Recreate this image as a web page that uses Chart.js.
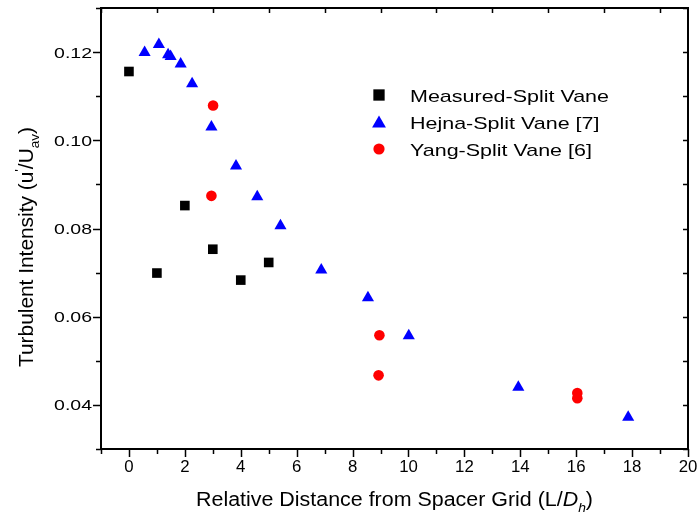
<!DOCTYPE html>
<html>
<head>
<meta charset="utf-8">
<script src="https://cdn.jsdelivr.net/npm/chart.js@4.4.1/dist/chart.umd.min.js"></script>
<style>
  html, body { margin: 0; padding: 0; background: #fff; }
  #wrap { width: 699px; height: 524px; }
</style>
</head>
<body>
<div id="wrap"><canvas id="turbChart" width="699" height="524"></canvas></div>
<script>
// values
const measuredX = [0, 1, 2, 3, 4, 5];
const measuredY = [0.1156, 0.0699, 0.0852, 0.0753, 0.0683, 0.0723];

const hejnaX = [0.56, 1.07, 1.40, 1.49, 1.85, 2.26, 2.95, 3.83, 4.59, 5.42, 6.88, 8.55, 10.01, 13.93, 17.86];
const hejnaY = [0.1199, 0.1217, 0.1194, 0.1190, 0.1173, 0.1128, 0.1030, 0.0942, 0.0872, 0.0806, 0.0706, 0.0643, 0.0557, 0.0440, 0.0372];

const yangX = [3.01, 2.95, 8.96, 8.93, 16.04, 16.04];
const yangY = [0.1079, 0.0874, 0.0558, 0.0467, 0.0427, 0.0415];

const seriesNames = ['Measured-Split Vane', 'Hejna-Split Vane [7]', 'Yang-Split Vane [6]'];

const xTicks = [0, 2, 4, 6, 8, 10, 12, 14, 16, 18, 20];
const yTicks = [0.04, 0.06, 0.08, 0.10, 0.12];

// rich-text titles (s: sup / sub, i: italic)
const xTitle = [
    { t: 'Relative Distance from Spacer Grid (L/' },
    { t: 'D', i: true },
    { t: 'h', i: true, s: 'sub' },
    { t: ')' }
];
const yTitle = [
    { t: 'Turbulent Intensity (u' },
    { t: "'", s: 'sup' },
    { t: '/U' },
    { t: 'av', s: 'sub' },
    { t: ')' }
];

const FONT = '"Liberation Sans", Arial, sans-serif';

function toPoints(xs, ys) {
    return xs.map((x, i) => ({ x: x, y: ys[i] }));
}

function partFont(p, size) {
    const sz = p.s ? size * 0.65 : size;
    return (p.i ? 'italic ' : '') + sz + 'px ' + FONT;
}

function richWidth(ctx, parts, size) {
    let w = 0;
    parts.forEach(p => { ctx.font = partFont(p, size); w += ctx.measureText(p.t).width; });
    return w;
}

function drawRich(ctx, parts, size) {
    let cx = 0;
    parts.forEach(p => {
        ctx.font = partFont(p, size);
        let dy = 0;
        if (p.s === 'sup') dy = -0.45 * size;
        if (p.s === 'sub') dy = 0.3 * size;
        ctx.fillText(p.t, cx, dy);
        cx += ctx.measureText(p.t).width;
    });
}

// text stretched horizontally so that it fills a given width, like the source picture
function stretchText(ctx, str, x, y, size, sx, align) {
    ctx.save();
    ctx.font = size + 'px ' + FONT;
    const w = ctx.measureText(str).width * sx;
    let left = x;
    if (align === 'center') left = x - w / 2;
    if (align === 'right') left = x - w;
    ctx.translate(left, y);
    ctx.scale(sx, 1);
    ctx.textAlign = 'left';
    ctx.fillText(str, 0, 0);
    ctx.restore();
}

function markerPath(ctx, style, cx, cy, r) {
    ctx.beginPath();
    if (style === 'rect') {
        const h = r * Math.SQRT1_2;
        ctx.rect(cx - h, cy - h, 2 * h, 2 * h);
    } else if (style === 'triangle') {
        ctx.moveTo(cx, cy - r);
        ctx.lineTo(cx + r * Math.sin(2 * Math.PI / 3), cy - r * Math.cos(2 * Math.PI / 3));
        ctx.lineTo(cx + r * Math.sin(4 * Math.PI / 3), cy - r * Math.cos(4 * Math.PI / 3));
        ctx.closePath();
    } else {
        ctx.arc(cx, cy, r, 0, Math.PI * 2);
    }
    ctx.fill();
}

const framePlugin = {
    id: 'framePlugin',
    afterDraw(chart) {
        const ctx = chart.ctx;
        const a = chart.chartArea;
        const xs = chart.scales.x;
        const ys = chart.scales.y;
        ctx.save();
        ctx.strokeStyle = '#000';
        ctx.fillStyle = '#000';

        // tick marks: outward on bottom/left, inward on top/right
        ctx.lineWidth = 1.5;
        ctx.beginPath();
        for (let v = -1; v <= 20; v++) {
            const px = Math.round(xs.getPixelForValue(v)) + 0.5;
            const major = v % 2 === 0;
            ctx.moveTo(px, a.bottom);
            ctx.lineTo(px, a.bottom + (major ? 8 : 5));
            if (!major) {
                ctx.moveTo(px, a.top);
                ctx.lineTo(px, a.top + 5);
            }
        }
        for (let k = 3; k <= 13; k++) {
            const py = Math.round(ys.getPixelForValue(k / 100)) + 0.5;
            const major = k % 2 === 0;
            ctx.moveTo(a.left, py);
            ctx.lineTo(a.left - (major ? 8 : 5), py);
            ctx.moveTo(a.right, py);
            ctx.lineTo(a.right - 5, py);
        }
        ctx.stroke();

        ctx.lineWidth = 2;
        ctx.strokeRect(a.left, a.top, a.right - a.left, a.bottom - a.top);

        // tick labels
        ctx.textBaseline = 'alphabetic';
        xTicks.forEach(v => {
            stretchText(ctx, String(v), xs.getPixelForValue(v), 472, 16, 1.05, 'center');
        });
        yTicks.forEach(v => {
            stretchText(ctx, v.toFixed(2), 92, ys.getPixelForValue(v) + 5.5, 15, 1.3, 'right');
        });

        // x title
        const xSize = 19.5;
        const xw = richWidth(ctx, xTitle, xSize);
        const xsx = 397 / xw;
        ctx.save();
        ctx.translate(394.5 - 397 / 2, 506);
        ctx.scale(xsx, 1);
        drawRich(ctx, xTitle, xSize);
        ctx.restore();

        // y title
        const ySize = 19.5;
        const yw = richWidth(ctx, yTitle, ySize);
        const ysx = 240 / yw;
        ctx.save();
        ctx.translate(33, 247);
        ctx.rotate(-Math.PI / 2);
        ctx.translate(-120, 0);
        ctx.scale(ysx, 1);
        drawRich(ctx, yTitle, ySize);
        ctx.restore();

        // legend
        const styles = ['rect', 'triangle', 'circle'];
        const colors = ['#000000', '#0000ff', '#ff0000'];
        const radii = [8, 8, 5.6];
        ctx.font = '17px ' + FONT;
        const lsx = 199 / ctx.measureText(seriesNames[0]).width;
        seriesNames.forEach((name, i) => {
            const cy = 95 + i * 27;
            ctx.fillStyle = colors[i];
            markerPath(ctx, styles[i], 379, i === 1 ? cy + 1.5 : cy, radii[i]);
            ctx.fillStyle = '#000';
            stretchText(ctx, name, 410, cy + 7, 17, lsx, 'left');
        });
        ctx.restore();
    }
};

const ctx = document.getElementById('turbChart').getContext('2d');
new Chart(ctx, {
    type: 'scatter',
    data: {
        datasets: [{
            label: seriesNames[0],
            data: toPoints(measuredX, measuredY),
            pointStyle: 'rect',
            pointRadius: 6.8,
            backgroundColor: '#000000',
            borderWidth: 0,
        }, {
            label: seriesNames[1],
            data: toPoints(hejnaX, hejnaY),
            pointStyle: 'triangle',
            pointRadius: 7,
            backgroundColor: '#0000ff',
            borderWidth: 0,
        }, {
            label: seriesNames[2],
            data: toPoints(yangX, yangY),
            pointStyle: 'circle',
            pointRadius: 5.3,
            backgroundColor: '#ff0000',
            borderWidth: 0,
        }],
    },
    options: {
        responsive: false,
        animation: false,
        layout: { padding: { top: 8, right: 11, left: 0, bottom: 0 } },
        plugins: { legend: { display: false }, tooltip: { enabled: false } },
        scales: {
            x: {
                type: 'linear',
                min: -1,
                max: 20,
                afterBuildTicks: s => { s.ticks = xTicks.map(v => ({ value: v })); },
                afterFit: s => { s.height = 75; },
                ticks: { display: false },
                grid: { display: false, drawTicks: false },
                border: { display: false },
            },
            y: {
                type: 'linear',
                min: 0.03,
                max: 0.13,
                afterBuildTicks: s => { s.ticks = yTicks.map(v => ({ value: v })); },
                afterFit: s => { s.width = 101; },
                ticks: { display: false },
                grid: { display: false, drawTicks: false },
                border: { display: false },
            },
        },
    },
    plugins: [framePlugin],
});
</script>
</body>
</html>
